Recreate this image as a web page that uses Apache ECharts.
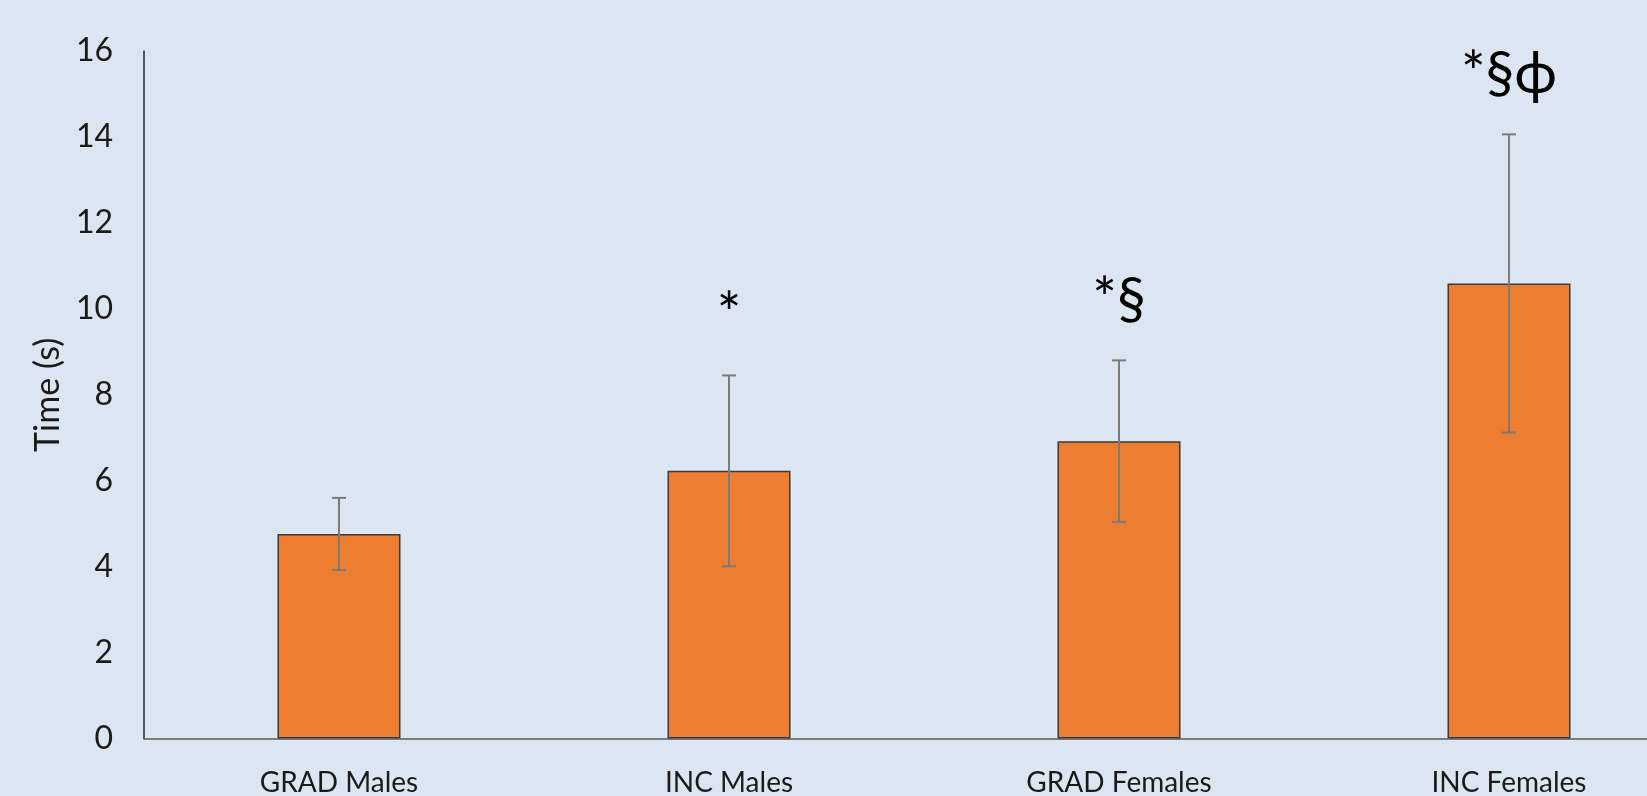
<!DOCTYPE html>
<html>
<head>
<meta charset="utf-8">
<script src="https://cdn.jsdelivr.net/npm/echarts@6/dist/echarts.min.js"></script>
<style>
  html, body { margin: 0; padding: 0; background: #DCE6F2; }
  #chart { width: 1647px; height: 796px; }
</style>
</head>
<body>
<div id="chart"></div>
<script>
var categories = ['GRAD Males', 'INC Males', 'GRAD Females', 'INC Females'];
var meanTime = [4.76, 6.23, 6.92, 10.59];
var errTime = [0.84, 2.22, 1.88, 3.47];
var marks = ['', '*', '*§', '*§\u03D5'];
var yTicks = [0, 2, 4, 6, 8, 10, 12, 14, 16];

// error bar rows built from the arrays above
var errData = categories.map(function (c, i) {
    return [i, meanTime[i] - errTime[i], meanTime[i] + errTime[i], marks[i]];
});

var chart = echarts.init(document.getElementById('chart'));

var option = {
    backgroundColor: '#DCE6F2',
    animation: false,
    textStyle: { fontFamily: 'Lato' },
    grid: {
        left: 144,
        top: 51,
        width: 1560,
        height: 687.5,
        outerBoundsMode: 'none'
    },
    xAxis: {
        type: 'category',
        data: categories,
        axisLine: { lineStyle: { color: '#595959', width: 1.5 } },
        axisTick: { show: false },
        axisLabel: {
            color: '#1a1a1a',
            fontSize: 28,
            margin: 30,
            interval: 0
        }
    },
    yAxis: {
        type: 'value',
        min: yTicks[0],
        max: yTicks[yTicks.length - 1],
        interval: 2,
        name: 'Time (s)',
        nameLocation: 'middle',
        nameGap: 72,
        nameTextStyle: { color: '#1a1a1a', fontSize: 34 },
        axisLine: { show: true, lineStyle: { color: '#262626', width: 1.5 } },
        axisTick: { show: false },
        splitLine: { show: false },
        axisLabel: {
            color: '#1a1a1a',
            fontSize: 32,
            margin: 31
        }
    },
    series: [
        {
            type: 'bar',
            data: meanTime,
            barWidth: 123,
            itemStyle: {
                color: '#ED7D31',
                borderColor: '#3a3a3a',
                borderWidth: 1.5
            }
        },
        {
            type: 'custom',
            data: errData,
            z: 10,
            renderItem: function (params, api) {
                var i = api.value(0);
                var lo = api.coord([i, api.value(1)]);
                var hi = api.coord([i, api.value(2)]);
                var cap = 7;
                var st = { stroke: '#7a7a7a', lineWidth: 2 };
                return {
                    type: 'group',
                    children: [
                        { type: 'line', shape: { x1: hi[0], y1: hi[1], x2: lo[0], y2: lo[1] }, style: st },
                        { type: 'line', shape: { x1: hi[0] - cap, y1: hi[1], x2: hi[0] + cap, y2: hi[1] }, style: st },
                        { type: 'line', shape: { x1: lo[0] - cap, y1: lo[1], x2: lo[0] + cap, y2: lo[1] }, style: st },
                        {
                            type: 'text',
                            x: hi[0],
                            y: hi[1] - 60,
                            style: {
                                text: errData[params.dataIndex][3],
                                fill: '#000',
                                font: '58px Lato, "DejaVu Sans"',
                                align: 'center',
                                verticalAlign: 'middle'
                            }
                        }
                    ]
                };
            }
        }
    ]
};

chart.setOption(option);
</script>
</body>
</html>
